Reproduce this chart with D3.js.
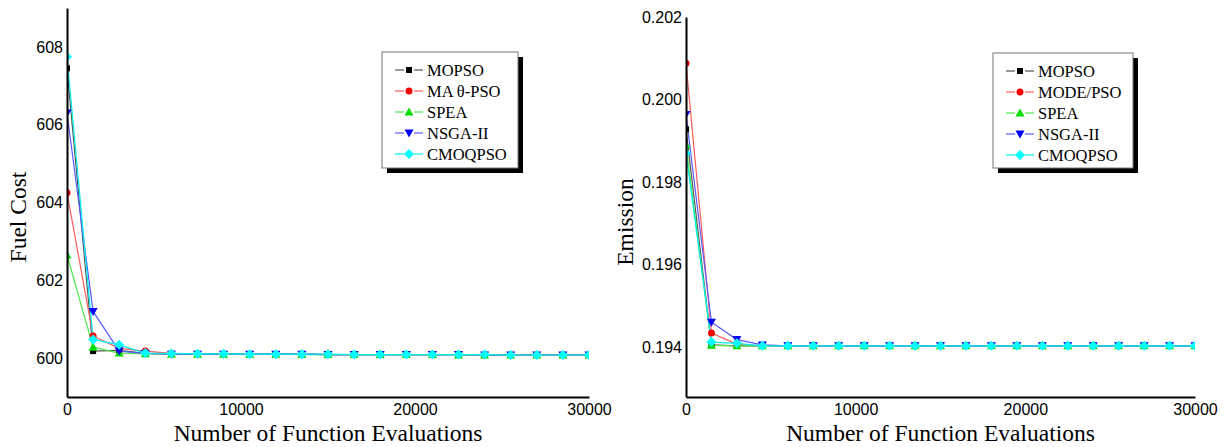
<!DOCTYPE html>
<html>
<head>
<meta charset="utf-8">
<script src="https://cdn.jsdelivr.net/npm/d3@7"></script>
<style>
  body { margin: 0; background: #fff; }
  svg { display: block; }
  .tick text { font-family: "Liberation Sans", Arial, sans-serif; font-size: 16px; fill: #000; }
  .title { font-family: "Liberation Serif", "Times New Roman", serif; font-size: 23.5px; fill: #000; }
  .legend text { font-family: "Liberation Serif", "Times New Roman", serif; font-size: 16.5px; fill: #000; }
</style>
</head>
<body>
<svg id="chart" width="1227" height="447"></svg>
<script>
// function evaluations (x)
const evals = [0, 1500, 3000, 4500, 6000, 7500, 9000, 10500, 12000, 13500, 15000,
  16500, 18000, 19500, 21000, 22500, 24000, 25500, 27000, 28500, 30000];
const xTicks = [0, 10000, 20000, 30000];

// fuel cost panel
const fuelTicks = [600, 602, 604, 606, 608];
const fuelNames = ["MOPSO", "MA θ-PSO", "SPEA", "NSGA-II", "CMOQPSO"];
const fuelMOPSO = [607.45, 600.18, 600.2, 600.12, 600.11, 600.11, 600.1, 600.1, 600.1, 600.1, 600.09,
  600.09, 600.09, 600.09, 600.09, 600.09, 600.08, 600.08, 600.08, 600.08, 600.08];
const fuelMA = [604.25, 600.57, 600.25, 600.18, 600.12, 600.11, 600.11, 600.1, 600.1, 600.1, 600.09,
  600.09, 600.09, 600.09, 600.09, 600.09, 600.08, 600.08, 600.08, 600.08, 600.08];
const fuelSPEA = [602.65, 600.28, 600.13, 600.11, 600.1, 600.1, 600.1, 600.1, 600.1, 600.09, 600.09,
  600.09, 600.09, 600.09, 600.09, 600.08, 600.08, 600.08, 600.08, 600.08, 600.08];
const fuelNSGA = [606.3, 601.2, 600.18, 600.12, 600.1, 600.1, 600.1, 600.1, 600.1, 600.1, 600.09,
  600.09, 600.09, 600.09, 600.09, 600.09, 600.08, 600.08, 600.08, 600.08, 600.08];
const fuelCMOQPSO = [607.75, 600.48, 600.34, 600.13, 600.12, 600.11, 600.11, 600.1, 600.1, 600.1, 600.1,
  600.09, 600.09, 600.09, 600.09, 600.09, 600.09, 600.08, 600.08, 600.08, 600.08];

// emission panel
const emisTicks = [0.194, 0.196, 0.198, 0.200, 0.202];
const emisNames = ["MOPSO", "MODE/PSO", "SPEA", "NSGA-II", "CMOQPSO"];
const emisMOPSO = [0.19928, 0.19406, 0.19404, 0.19404, 0.19404, 0.19404, 0.19404, 0.19404, 0.19404, 0.19404, 0.19404,
  0.19404, 0.19404, 0.19404, 0.19404, 0.19404, 0.19404, 0.19404, 0.19404, 0.19404, 0.19404];
const emisMODE = [0.20088, 0.19435, 0.19408, 0.19404, 0.19404, 0.19404, 0.19404, 0.19404, 0.19404, 0.19404, 0.19404,
  0.19404, 0.19404, 0.19404, 0.19404, 0.19404, 0.19404, 0.19404, 0.19404, 0.19404, 0.19404];
const emisSPEA = [0.1989, 0.19405, 0.19404, 0.19404, 0.19404, 0.19404, 0.19404, 0.19404, 0.19404, 0.19404, 0.19404,
  0.19404, 0.19404, 0.19404, 0.19404, 0.19404, 0.19404, 0.19404, 0.19404, 0.19404, 0.19404];
const emisNSGA = [0.19964, 0.19461, 0.19419, 0.19406, 0.19404, 0.19404, 0.19404, 0.19404, 0.19404, 0.19404, 0.19404,
  0.19404, 0.19404, 0.19404, 0.19404, 0.19404, 0.19404, 0.19404, 0.19404, 0.19404, 0.19404];
const emisCMOQPSO = [0.1987, 0.19413, 0.1941, 0.19404, 0.19404, 0.19404, 0.19404, 0.19404, 0.19404, 0.19404, 0.19404,
  0.19404, 0.19404, 0.19404, 0.19404, 0.19404, 0.19404, 0.19404, 0.19404, 0.19404, 0.19404];

const lineColors = ["#555555", "#ff5a5a", "#4ee84e", "#5a5aff", "#00f0f0"];
const markColors = ["#000000", "#ff0000", "#00dd00", "#0000ff", "#00ffff"];
const shapes = ["square", "circle", "up", "down", "diamond"];

const svg = d3.select("#chart");

function markerPath(shape) {
  if (shape === "square") return "M-3,-3h6v6h-6z";
  if (shape === "circle") return "M-3.5,0a3.5,3.5 0 1,0 7,0a3.5,3.5 0 1,0 -7,0z";
  if (shape === "up") return "M0,-4.5L4.5,3.5L-4.5,3.5z";
  if (shape === "down") return "M0,4.5L4.5,-3.5L-4.5,-3.5z";
  return "M0,-5L5,0L0,5L-5,0z";
}

function drawPanel(cfg) {
  const x = d3.scaleLinear().domain([0, 30000]).range([cfg.x0, cfg.x1]);
  const y = d3.scaleLinear().domain(cfg.yDomain).range([397, cfg.yTop]);
  const g = svg.append("g");

  const clipId = "clip" + cfg.id;
  svg.append("clipPath").attr("id", clipId)
    .append("rect")
    .attr("x", cfg.x0).attr("y", cfg.yTop)
    .attr("width", cfg.x1 - cfg.x0).attr("height", 397 - cfg.yTop);

  const plot = g.append("g").attr("clip-path", "url(#" + clipId + ")");
  const line = d3.line().x((d, i) => x(evals[i])).y(d => y(d));

  cfg.series.forEach((vals, k) => {
    plot.append("path")
      .attr("d", line(vals))
      .attr("fill", "none")
      .attr("stroke", lineColors[k])
      .attr("stroke-width", 1.2);
  });
  cfg.series.forEach((vals, k) => {
    plot.selectAll(null)
      .data(vals)
      .enter()
      .append("path")
      .attr("d", markerPath(shapes[k]))
      .attr("transform", (d, i) => "translate(" + x(evals[i]) + "," + y(d) + ")")
      .attr("fill", markColors[k]);
  });

  // axes
  const xa = g.append("g")
    .attr("transform", "translate(0,397)")
    .call(d3.axisBottom(x).tickValues(xTicks).tickSize(0).tickPadding(7).tickFormat(d3.format("d")));
  const ya = g.append("g")
    .attr("transform", "translate(" + cfg.x0 + ",0)")
    .call(d3.axisLeft(y).tickValues(cfg.ticks).tickSize(0).tickPadding(4).tickFormat(cfg.fmt));
  [xa, ya].forEach(a => {
    a.select(".domain").attr("stroke", "#000").attr("stroke-width", 2);
    a.selectAll(".tick text").attr("font-family", null).attr("font-size", null);
  });

  g.append("text")
    .attr("class", "title")
    .attr("text-anchor", "middle")
    .attr("x", (cfg.x0 + cfg.x1) / 2)
    .attr("y", 441)
    .text("Number of Function Evaluations");

  g.append("text")
    .attr("class", "title")
    .attr("text-anchor", "middle")
    .attr("transform", "translate(" + cfg.titleX + "," + cfg.titleY + ") rotate(-90)")
    .text(cfg.yTitle);

  // legend
  const lg = g.append("g").attr("class", "legend");
  const L = cfg.legend;
  lg.append("rect")
    .attr("x", L.x + 5).attr("y", L.y + 5)
    .attr("width", L.w).attr("height", L.h)
    .attr("fill", "#000");
  lg.append("rect")
    .attr("x", L.x).attr("y", L.y)
    .attr("width", L.w).attr("height", L.h)
    .attr("fill", "#fff").attr("stroke", "#777").attr("stroke-width", 1);
  cfg.names.forEach((name, k) => {
    const cy = L.y + 18 + k * 21;
    const mx = L.x + 27;
    lg.append("line")
      .attr("x1", mx - 14).attr("x2", mx - 5).attr("y1", cy).attr("y2", cy)
      .attr("stroke", lineColors[k]).attr("stroke-width", 1.2);
    lg.append("line")
      .attr("x1", mx + 5).attr("x2", mx + 14).attr("y1", cy).attr("y2", cy)
      .attr("stroke", lineColors[k]).attr("stroke-width", 1.2);
    lg.append("path")
      .attr("d", markerPath(shapes[k]))
      .attr("transform", "translate(" + mx + "," + cy + ")")
      .attr("fill", markColors[k]);
    lg.append("text")
      .attr("x", L.x + 45)
      .attr("y", cy + 6)
      .text(name);
  });
}

drawPanel({
  id: "fuel", x0: 67, x1: 589, yTop: 8, yDomain: [599, 609],
  ticks: fuelTicks, fmt: d3.format("d"),
  series: [fuelMOPSO, fuelMA, fuelSPEA, fuelNSGA, fuelCMOQPSO],
  names: fuelNames, yTitle: "Fuel Cost", titleX: 26, titleY: 217,
  legend: { x: 382, y: 52, w: 136, h: 116 }
});

drawPanel({
  id: "emis", x0: 686, x1: 1195, yTop: 17, yDomain: [0.1928, 0.202],
  ticks: emisTicks, fmt: d3.format(".3f"),
  series: [emisMOPSO, emisMODE, emisSPEA, emisNSGA, emisCMOQPSO],
  names: emisNames, yTitle: "Emission", titleX: 633, titleY: 222,
  legend: { x: 993, y: 53, w: 140, h: 115 }
});
</script>
</body>
</html>
